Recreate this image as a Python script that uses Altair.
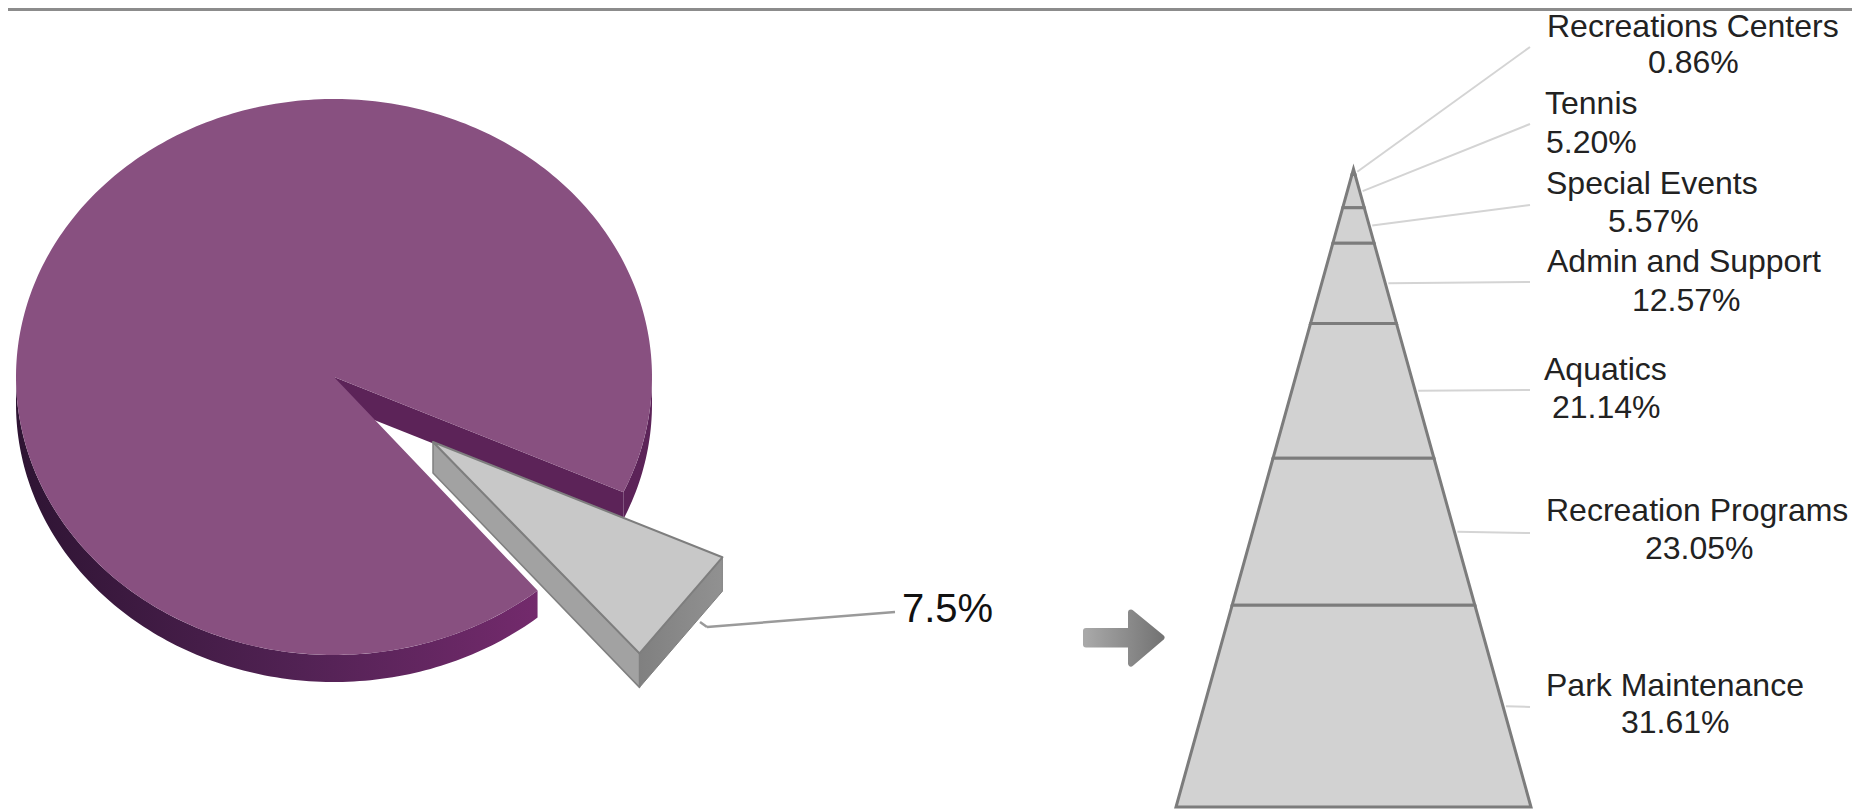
import math
import altair as alt
import pandas as pd

# ---------- data ----------
CATEGORIES = ["Recreations Centers", "Tennis", "Special Events", "Admin and Support",
              "Aquatics", "Recreation Programs", "Park Maintenance"]
SHARES = [0.86, 5.20, 5.57, 12.57, 21.14, 23.05, 31.61]
VALUE_LABELS = ["0.86%", "5.20%", "5.57%", "12.57%", "21.14%", "23.05%", "31.61%"]
PIE_LABEL = "7.5%"

# ---------- layout (page pixels) ----------
W, H = 1844, 801
OX, OY = 8, 8
FONT = "Liberation Sans"
NAME_X = [1547, 1545, 1546, 1547, 1544, 1546, 1546]
NAME_Y = [37, 114, 194, 272, 380, 521, 696]
VALUE_X = [1648, 1546, 1608, 1632, 1552, 1645, 1621]
VALUE_Y = [73, 153, 232, 311, 418, 559, 733]
LEADER_END_X = [1530, 1530, 1530, 1530, 1530, 1530, 1530]
LEADER_END_Y = [47, 124, 205, 282, 390, 533, 707]
PYR_TOP, PYR_BOTTOM, PYR_LEFT, PYR_RIGHT = 169, 807, 1176, 1531
PYR_MID = (PYR_LEFT + PYR_RIGHT) / 2

CX, CY, RX, RY, DEPTH = 334, 377, 318, 278, 27
T0, T1 = 24.5, 50.2           # slice edges on the main ellipse
ST1 = 49.5                    # far edge of the exploded slice
SX, SY = 433, 442             # exploded slice apex

x_px = alt.X("x:Q", axis=None, scale=alt.Scale(domain=[OX, OX + W]))
y_px = alt.Y("y:Q", axis=None, scale=alt.Scale(domain=[OY + H, OY]))


def grad(stops):
    return alt.LinearGradient(
        gradient="linear", x1=0, y1=0, x2=1, y2=0,
        stops=[alt.GradientStop(offset=o, color=c) for o, c in stops])


def ell(t, cx=CX, cy=CY, dy=0):
    r = math.radians(t)
    return [cx + RX * math.cos(r), cy + RY * math.sin(r) + dy]


def arc(a, b, cx=CX, cy=CY, dy=0):
    n = max(2, int(abs(b - a)) + 1)
    return [ell(a + (b - a) * i / (n - 1), cx, cy, dy) for i in range(n)]


def poly(points, fill, stroke=None, width=0):
    pts = [[p[0] - OX, p[1] - OY] for p in points]
    pts.append(pts[0])
    feature = {"type": "Feature", "properties": {},
               "geometry": {"type": "Polygon", "coordinates": [pts]}}
    kw = {"fill": fill, "strokeJoin": "round"}
    if stroke is not None:
        kw.update(stroke=stroke, strokeWidth=width)
    else:
        kw.update(strokeWidth=0)
    return alt.Chart(alt.InlineData(values=[feature])).mark_geoshape(**kw).project(
        type="identity", scale=1, translate=[0, 0])


def segs(rows, color, width):
    df = pd.DataFrame(rows, columns=["x", "y", "x2", "y2"])
    return alt.Chart(df).mark_rule(color=color, strokeWidth=width).encode(
        x=x_px, y=y_px, x2="x2:Q", y2="y2:Q")


def texts(xs, ys, labels, size, color):
    df = pd.DataFrame({"x": xs, "y": ys, "t": labels})
    return alt.Chart(df).mark_text(
        align="left", baseline="alphabetic", font=FONT, fontSize=size, color=color
    ).encode(x=x_px, y=y_px, text="t:N")


layers = []

# top border line of the source picture
layers.append(segs([[OX, OY + 1.5, OX + W, OY + 1.5]], "#8c8c8c", 3))

# ---------- pie ----------
front = arc(T1, 180) + arc(180, T1, dy=DEPTH)
layers.append(poly(front, grad([(0, "#2e1433"), (0.55, "#522254"), (1, "#732a6c")])))
layers.append(poly(arc(0, T0) + arc(T0, 0, dy=DEPTH), "#5c2358"))
edge = ell(T0)
layers.append(poly([[CX, CY], edge, [edge[0], edge[1] + DEPTH], [CX, CY + DEPTH]], "#5c2358"))
layers.append(poly([[CX, CY]] + arc(T1, 360 + T0), "#885080"))

# leader drawn under the slice
layers.append(segs([[700, 622, 707, 627], [707, 627, 895, 612]], "#9a9a9a", 2.5))

# exploded slice: the source draws its outer edge as a straight chord
apex = [SX, SY]
near = ell(T0, SX, SY)
far = ell(ST1, SX, SY)
WALL = 34
layers.append(poly([apex, far, [far[0], far[1] + WALL], [SX, SY + 31]],
                   "#a2a2a2", "#808080", 1.5))
layers.append(poly([near, far, [far[0], far[1] + WALL], [near[0], near[1] + WALL]],
                   grad([(0, "#808080"), (1, "#919191")]), "#808080", 1))
layers.append(poly([apex, near, far], "#c8c8c8", "#7e7e7e", 2))

layers.append(texts([902], [622], [PIE_LABEL], 40, "#111111"))

# ---------- arrow ----------
arrow = [[1086, 631], [1131, 631], [1131, 612.5], [1161.5, 637.5],
         [1131, 663.5], [1131, 644.5], [1086, 644.5]]
arrow_grad = grad([(0, "#a8a8a8"), (1, "#747474")])
layers.append(poly(arrow, arrow_grad, arrow_grad, 6))

# ---------- pyramid ----------
rows, cum = [], 0.0
mids = []
for name, s in zip(CATEGORIES, SHARES):
    rows.append({"seg": name, "c": cum, "l": -cum, "r": cum})
    rows.append({"seg": name, "c": cum + s, "l": -(cum + s), "r": cum + s})
    mids.append(cum + s / 2)
    cum += s
total = cum
layers.append(
    alt.Chart(pd.DataFrame(rows)).mark_area(
        orient="horizontal", fill="#d2d2d2", stroke="#7c7c7c", strokeWidth=3
    ).encode(
        y=alt.Y("c:Q", axis=None, scale=alt.Scale(
            domain=[0, total], range=[PYR_TOP - OY, PYR_BOTTOM - OY])),
        x=alt.X("l:Q", axis=None, scale=alt.Scale(
            domain=[-total, total], range=[PYR_LEFT - OX, PYR_RIGHT - OX])),
        x2="r:Q",
        detail="seg:N",
    )
)

# leaders start on the pyramid's right edge, at the middle of each band
half = (PYR_RIGHT - PYR_LEFT) / 2
leader_rows = []
for m, ex, ey in zip(mids, LEADER_END_X, LEADER_END_Y):
    sx = PYR_MID + half * m / total + 3
    sy = PYR_TOP + (PYR_BOTTOM - PYR_TOP) * m / total
    leader_rows.append([sx, sy, ex, ey])
layers.append(segs(leader_rows, "#d4d4d4", 2))

layers.append(texts(NAME_X, NAME_Y, CATEGORIES, 32, "#222222"))
layers.append(texts(VALUE_X, VALUE_Y, VALUE_LABELS, 32, "#222222"))

chart = (
    alt.layer(*layers)
    .resolve_scale(x="independent", y="independent")
    .properties(width=W, height=H, padding=0,
                autosize=alt.AutoSizeParams(type="none"))
    .configure_view(strokeWidth=0)
)

chart.save("out.html", embed_options={"renderer": "svg", "actions": False})
